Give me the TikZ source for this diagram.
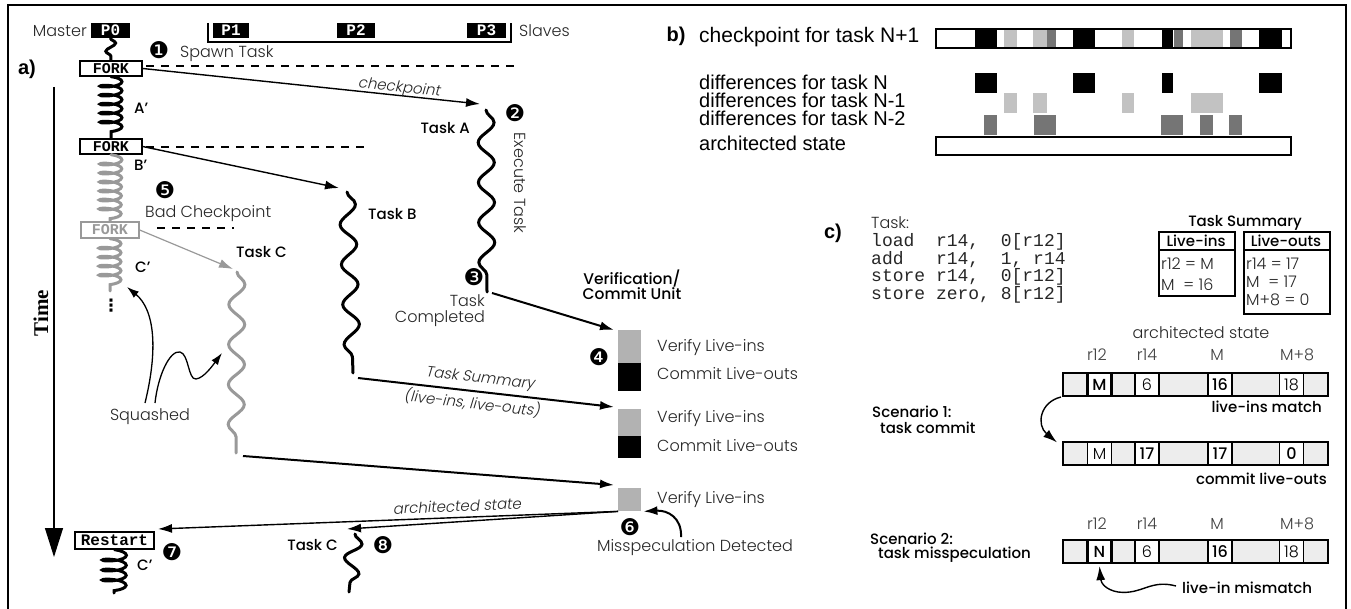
\documentclass[tikz,border=0pt]{standalone}
\usepackage{fontspec}
\usetikzlibrary{arrows.meta,decorations.pathmorphing}
\IfFontExistsTF{Poppins Light}{\newfontfamily\futl{Poppins Light}\newfontfamily\futi[FakeSlant=0.18]{Poppins Light}}{\newfontfamily\futl{Poppins}\newfontfamily\futi[FakeSlant=0.18]{Poppins}}
\IfFontExistsTF{Poppins Medium}{\newfontfamily\futm{Poppins Medium}}{\newfontfamily\futm{Poppins}}
\newfontfamily\hel{Liberation Sans}
\newfontfamily\mono{Liberation Mono}
\newfontfamily\dingf{DejaVu Sans}
\newfontfamily\tms{Liberation Serif}
\newcommand\fsz[2]{\fontsize{#1}{#2}\selectfont}
\definecolor{sq}{gray}{0.6}
\definecolor{vg}{gray}{0.7}
\definecolor{lg}{gray}{0.76}
\definecolor{dg}{gray}{0.46}
\definecolor{cellg}{gray}{0.93}
\definecolor{txt}{gray}{0.15}
\begin{document}
\begin{tikzpicture}[x=1pt,y=-1pt,
 lt/.style={font=\futl\fsz{16}{19}, text=txt, inner sep=0pt},
 md/.style={font=\futm\fsz{15}{18}, inner sep=0pt},
 it/.style={font=\futi\fsz{15}{18}, text=txt, inner sep=0pt},
 num/.style={font=\dingf\fsz{23}{23}, inner sep=0pt},
 forkbox/.style={draw, line width=1.3pt, fill=white, minimum width=62pt, minimum height=15pt, inner sep=0pt, font=\mono\bfseries\fsz{15}{15}},
 pbox/.style={fill=black, text=white, minimum height=15pt, inner sep=0pt, font=\mono\bfseries\fsz{16}{16}},
 thread/.style={line width=3pt, line cap=round, decorate, decoration={coil, amplitude=11pt, segment length=9pt, aspect=0.25}},
 shortthread/.style={line width=3pt, line cap=round, decorate, decoration={snake, amplitude=5pt, segment length=16pt}},
 taskline/.style={line width=3pt, line cap=round, decorate, decoration={snake, amplitude=8pt, segment length=40pt}},
 arr/.style={-{Latex[length=14pt,width=9pt]}, line width=1.8pt},
 sqarr/.style={-{Latex[length=12pt,width=8pt]}, line width=1.3pt},
 dashline/.style={line width=1.2pt, dash pattern=on 8pt off 7pt},
 hl/.style={font=\hel\fsz{20}{22}, inner sep=0pt},
 code/.style={font=\mono\fsz{18}{18}, inner sep=0pt, text=txt},
 cellw/.style={draw, fill=white, line width=1.2pt, minimum width=24pt, minimum height=23pt, inner sep=0pt, font=\futl\fsz{16}{16}},
 cellb/.style={cellw, line width=2.2pt, font=\futm\fsz{16}{16}},
 vsq/.style={fill=vg, minimum width=23pt, inner sep=0pt, anchor=north west},
 csq/.style={fill=black, minimum width=23pt, inner sep=0pt, anchor=north west},
]
\useasboundingbox (0,0) rectangle (1351,609);
\draw[line width=1.3pt] (8,615) -- (8,5) -- (1346,5) -- (1346,615);

% ---------------- part a ----------------
\node[lt, anchor=east] (master) at (87,31) {Master};
\node[pbox, minimum width=39pt] (p0) at (110.5,30.5) {P0};
\node[pbox, minimum width=36pt] (p1) at (231,30.5) {P1};
\node[pbox, minimum width=38pt] (p2) at (356,30.5) {P2};
\node[pbox, minimum width=39pt] (p3) at (486.5,30.5) {P3};
\coordinate (brl) at (208,23); \coordinate (brlb) at (208,42);
\coordinate (brrb) at (511,42); \coordinate (brr) at (511,23);
\draw[line width=1.2pt] (brl) -- (brlb) -- (brrb) -- (brr);
\node[lt, anchor=west] (slaves) at (519,31) {Slaves};

\node[num] (n1) at (159,50) {❶};
\node[lt, anchor=west] (spawn) at (180,54) {Spawn Task};
\node[font=\hel\bfseries\fsz{20}{20}, inner sep=0pt] (alab) at (27,69) {a)};

\node[forkbox] (fork1) at (111,68.5) {FORK};
\node[forkbox] (fork2) at (111,146.5) {FORK};
\node[forkbox, draw=sq, text=sq, minimum width=58pt, minimum height=16pt] (fork3) at (110,230) {FORK};
\node[forkbox, minimum width=79pt, minimum height=17pt, font=\mono\bfseries\fsz{16}{16}] (restart) at (114.5,540.5) {Restart};

\draw[shortthread] (p0.south) -- (fork1.north);
\draw[thread] (fork1.south) -- (fork2.north);
\draw[thread, draw=sq] (fork2.south) -- (fork3.north);
\coordinate (cend) at (110,291);
\draw[thread, draw=sq] (fork3.south) -- (cend);
\node[font=\dingf\bfseries\fsz{17}{17}, inner sep=0pt] (dots) at (111,306) {⋮};
\coordinate (rend) at (114,593);
\draw[thread, decoration={coil, amplitude=12pt, segment length=10pt, aspect=0.25}] (restart.south) -- (rend);

\coordinate (d1a) at (146,66); \coordinate (d1b) at (515,66);
\draw[dashline] (d1a) -- (d1b);
\coordinate (d2a) at (146,147); \coordinate (d2b) at (364,147);
\draw[dashline] (d2a) -- (d2b);
\coordinate (d3a) at (157,228); \coordinate (d3b) at (234,228);
\draw[dashline] (d3a) -- (d3b);

% time axis
\coordinate (t0) at (54,87); \coordinate (t1) at (54,557);
\draw[line width=1.2pt, -{Triangle[length=29pt,width=18pt]}] (t0) -- (t1);
\node[font=\tms\bfseries\fsz{21}{21}, rotate=90, inner sep=0pt] (time) at (41,313) {Time};

% labels along master
\node[md, anchor=west] (ap) at (134,108) {A’};
\node[md, anchor=west] (bp) at (134,165) {B’};
\node[num] (n5) at (165,190) {❺};
\node[lt, anchor=west] (badcp) at (145,214) {Bad Checkpoint};
\node[md, anchor=west] (cp) at (135,267) {C’};

% tasks
\coordinate (taTop) at (486,110); \coordinate (taBot) at (487,292);
\coordinate (tbTop) at (347,192); \coordinate (tbBot) at (353,373);
\coordinate (tcTop) at (237,272); \coordinate (tcBot) at (236,453);
\draw[taskline] (taTop) -- (taBot);
\draw[taskline] (tbTop) -- (tbBot);
\draw[taskline, draw=sq] (tcTop) -- (tcBot);

\coordinate (cpTip) at (480,104);
\draw[arr, line width=1.4pt] (fork1.east) -- (cpTip);
\node[it, rotate=-6] (cplab) at (399,88) {checkpoint};
\coordinate (tbTip) at (339,188);
\draw[arr, line width=1.4pt] (fork2.east) -- (tbTip);
\coordinate (tcTip) at (233,269);
\draw[sqarr, draw=sq, line width=1.2pt, -{Latex[length=14pt,width=9pt]}] (fork3.east) -- (tcTip);

\node[md, anchor=west] (tclab) at (236,252) {Task C};
\node[md, anchor=west] (tblab) at (368,214) {Task B};
\node[md, anchor=east] (talab) at (470,128) {Task A};
\node[num] (n2) at (515,113) {❷};
\node[lt, rotate=-90] (exec) at (520,183) {Execute Task};
\node[num] (n3) at (474,277) {❸};
\node[lt, anchor=east, align=right, font=\futl\fsz{16}{16}] (tcomp) at (485,311) {Task\\Completed};

% squashed
\node[lt] (squash) at (150,417) {Squashed};
\coordinate (sq1s) at (145,403); \coordinate (sq1e) at (127,287);
\draw[sqarr] (sq1s) .. controls (158,350) and (155,310) .. (sq1e);
\coordinate (sq2s) at (155,403); \coordinate (sq2e) at (222,353);
\draw[sqarr] (sq2s) .. controls (158,375) and (170,350) .. (180,352) .. controls (189,354) and (188,380) .. (196,379) .. controls (204,378) and (213,365) .. (sq2e);

% verification unit
\node[md, align=center, font=\futm\fsz{15.5}{15}] (vcu) at (632,285) {Verification/\\Commit Unit};
\node[vsq, minimum height=33pt] (v1) at (618,330) {};
\node[csq, minimum height=28pt] (c1) at (618,363) {};
\node[vsq, minimum height=27pt] (v2) at (618,409) {};
\node[csq, minimum height=22pt] (c2) at (618,436) {};
\node[vsq, minimum height=23pt] (v3) at (618,488) {};
\node[lt, anchor=west] (vl1) at (657,347) {Verify Live-ins};
\node[lt, anchor=west] (cl1) at (657,374) {Commit Live-outs};
\node[lt, anchor=west] (vl2) at (657,418) {Verify Live-ins};
\node[lt, anchor=west] (cl2) at (657,446) {Commit Live-outs};
\node[lt, anchor=west] (vl3) at (657,499) {Verify Live-ins};
\node[num] (n4) at (599,357) {❹};
\node[num] (n6) at (630,527) {❻};
\node[lt] (misdet) at (695,548) {Misspeculation Detected};

\coordinate (taArr) at (492,293);
\draw[arr, line width=2pt] (taArr) -- ([xshift=-4pt]v1.north west);
\coordinate (tsStart) at (358,378);
\draw[arr, line width=2pt] (tsStart) -- ([xshift=-4pt,yshift=2pt]v2.north west);
\node[it, rotate=-6.5] (tslab1) at (480,379) {Task Summary};
\node[it, rotate=-6.5] (tslab2) at (472,403) {(live-ins, live-outs)};
\coordinate (tcArr) at (243,456);
\draw[arr, line width=2pt] (tcArr) -- ([xshift=-4pt,yshift=3pt]v3.north west);

\coordinate (rTip) at (158,529);
\coordinate (tc2Tip) at (347,529);
\draw[arr, line width=1.4pt] (v3.south west) -- (rTip);
\draw[arr, line width=1.4pt] (v3.south west) -- (tc2Tip);
\node[it, rotate=2.3] (archlab) at (457,506) {architected state};
\coordinate (ms0) at (681,537);
\draw[arr, line width=2pt] (ms0) .. controls (682,518) and (668,510) .. ([xshift=2pt]v3.south east);

% restart and task C again
\node[md, anchor=west] (cp2) at (137,565) {C’};
\node[num] (n7) at (172,552) {❼};
\node[md, anchor=east] (tc2lab) at (338,545) {Task C};
\coordinate (tc2Top) at (355,534); \coordinate (tc2Bot) at (349,592);
\draw[taskline, decoration={snake, amplitude=8pt, segment length=30pt}] (tc2Top) -- (tc2Bot);
\node[num] (n8) at (383,545) {❽};

% ---------------- part b ----------------
\node[font=\hel\bfseries\fsz{20}{20}, inner sep=0pt] (blab) at (676,36) {b)};
\node[hl, anchor=west, font=\hel\fsz{21}{22}] (bl1) at (699,37) {checkpoint for task N+1};
\node[hl, anchor=west] (bl2) at (699,82) {differences for task N};
\node[hl, anchor=west] (bl3) at (699,100) {differences for task N-1};
\node[hl, anchor=west] (bl4) at (699,118) {differences for task N-2};
\node[hl, anchor=west] (bl5) at (699,143) {architected state};
% checkpoint bar
\foreach \a/\b in {975/997,1073/1095,1162/1173,1259/1282} \fill[black] (\a,29) rectangle (\b,48);
\foreach \a/\b in {1004/1017,1033/1047,1122/1134,1191/1223} \fill[lg] (\a,29) rectangle (\b,48);
\foreach \a/\b in {1047/1056,1174/1183,1230/1242} \fill[dg] (\a,29) rectangle (\b,48);
\draw[line width=2pt] (936,29) rectangle (1291,48);
% differences
\foreach \a/\b in {975/997,1073/1095,1162/1173,1259/1282} \fill[black] (\a,73) rectangle (\b,93);
\foreach \a/\b in {1004/1017,1033/1047,1122/1134,1191/1223} \fill[lg] (\a,93) rectangle (\b,113);
\foreach \a/\b in {984/997,1034/1056,1161/1183,1200/1213,1229/1242} \fill[dg] (\a,115) rectangle (\b,135);
\draw[line width=2pt] (936,137) rectangle (1291,155);

% ---------------- part c ----------------
\node[font=\hel\bfseries\fsz{20}{20}, inner sep=0pt] (clab) at (833,233) {c)};
\node[lt, anchor=west] (tasklab) at (871,223) {Task:};
\node[code, anchor=west] (code1) at (871,242) {load~~r14,~~0[r12]};
\node[code, anchor=west] (code2) at (871,259.5) {add~~~r14,~~1, r14};
\node[code, anchor=west] (code3) at (871,277) {store r14,~~0[r12]};
\node[code, anchor=west] (code4) at (871,294.5) {store zero, 8[r12]};

\node[md] (tsum) at (1245,223) {Task Summary};
\node[draw, line width=1.8pt, minimum width=76pt, minimum height=64pt, inner sep=0pt, anchor=north west] (libox) at (1158,231) {};
\draw[line width=1.4pt] ([yshift=-19pt]libox.north west) -- ([yshift=-19pt]libox.north east);
\node[md] (lih) at (1196,241) {Live-ins};
\node[lt, anchor=west] (li1) at (1161,264) {r12 = M};
\node[lt, anchor=west] (li2) at (1161,285) {M~~= 16};
\node[draw, line width=1.8pt, minimum width=86pt, minimum height=82pt, inner sep=0pt, anchor=north west] (lobox) at (1243,231) {};
\draw[line width=1.4pt] ([yshift=-19pt]lobox.north west) -- ([yshift=-19pt]lobox.north east);
\node[md] (loh) at (1286,241) {Live-outs};
\node[lt, anchor=west] (lo1) at (1246,264) {r14 = 17};
\node[lt, anchor=west] (lo2) at (1246,282) {M~~= 17};
\node[lt, anchor=west] (lo3) at (1246,300) {M+8 = 0};

\node[lt] (archc) at (1201,333) {architected state};
\foreach \t/\x/\n in {r12/1097/a,r14/1147/b,M/1217/c,M+8/1297/d} {
  \node[lt, text=black!75] (colA\n) at (\x,355) {\t};
  \node[lt, text=black!75] (colB\n) at (\x,524) {\t};
}
% row 1
\draw[fill=cellg, line width=1.2pt] (1063,373) rectangle (1328,396);
\node[cellb] (r1a) at (1099.5,384.5) {M};
\node[cellw] (r1b) at (1147,384.5) {6};
\node[cellb] (r1c) at (1220,384.5) {16};
\node[cellw] (r1d) at (1291.5,384.5) {18};
\node[md, anchor=east] (lim) at (1322,407) {live-ins match};
% row 2
\draw[fill=cellg, line width=1.2pt] (1063,442) rectangle (1328,465);
\node[cellw] (r2a) at (1099.5,453.5) {M};
\node[cellb] (r2b) at (1147,453.5) {17};
\node[cellb] (r2c) at (1220,453.5) {17};
\node[cellw, font=\futm\fsz{16}{16}] (r2d) at (1291.5,453.5) {0};
\node[md, anchor=east] (clo) at (1327,479) {commit live-outs};
% row 3
\draw[fill=cellg, line width=1.2pt] (1063,540) rectangle (1328,563);
\node[cellb] (r3a) at (1099.5,551.5) {N};
\node[cellw] (r3b) at (1147,551.5) {6};
\node[cellb] (r3c) at (1220,551.5) {16};
\node[cellw] (r3d) at (1291.5,551.5) {18};
\node[md, anchor=west] (lmm) at (1182,588) {live-in mismatch};

\node[md, anchor=west] (sc1a) at (872,412) {Scenario 1:};
\node[md, anchor=west] (sc1b) at (880,428) {task commit};
\node[md, anchor=west] (sc2a) at (870,539) {Scenario 2:};
\node[md, anchor=west] (sc2b) at (878,555) {task misspeculation};

\coordinate (s1a) at (1061,397);
\draw[arr, line width=1.4pt] (s1a) .. controls (1040,402) and (1036,425) .. ([xshift=-4pt,yshift=-1pt]r2a.north west -| s1a);
\coordinate (mm0) at (1176,586);
\draw[arr, line width=1.4pt] (mm0) .. controls (1150,579) and (1142,595) .. (1118,592) .. controls (1106,590) and (1101,583) .. ([yshift=-2pt]r3a.south);
\end{tikzpicture}
\end{document}
